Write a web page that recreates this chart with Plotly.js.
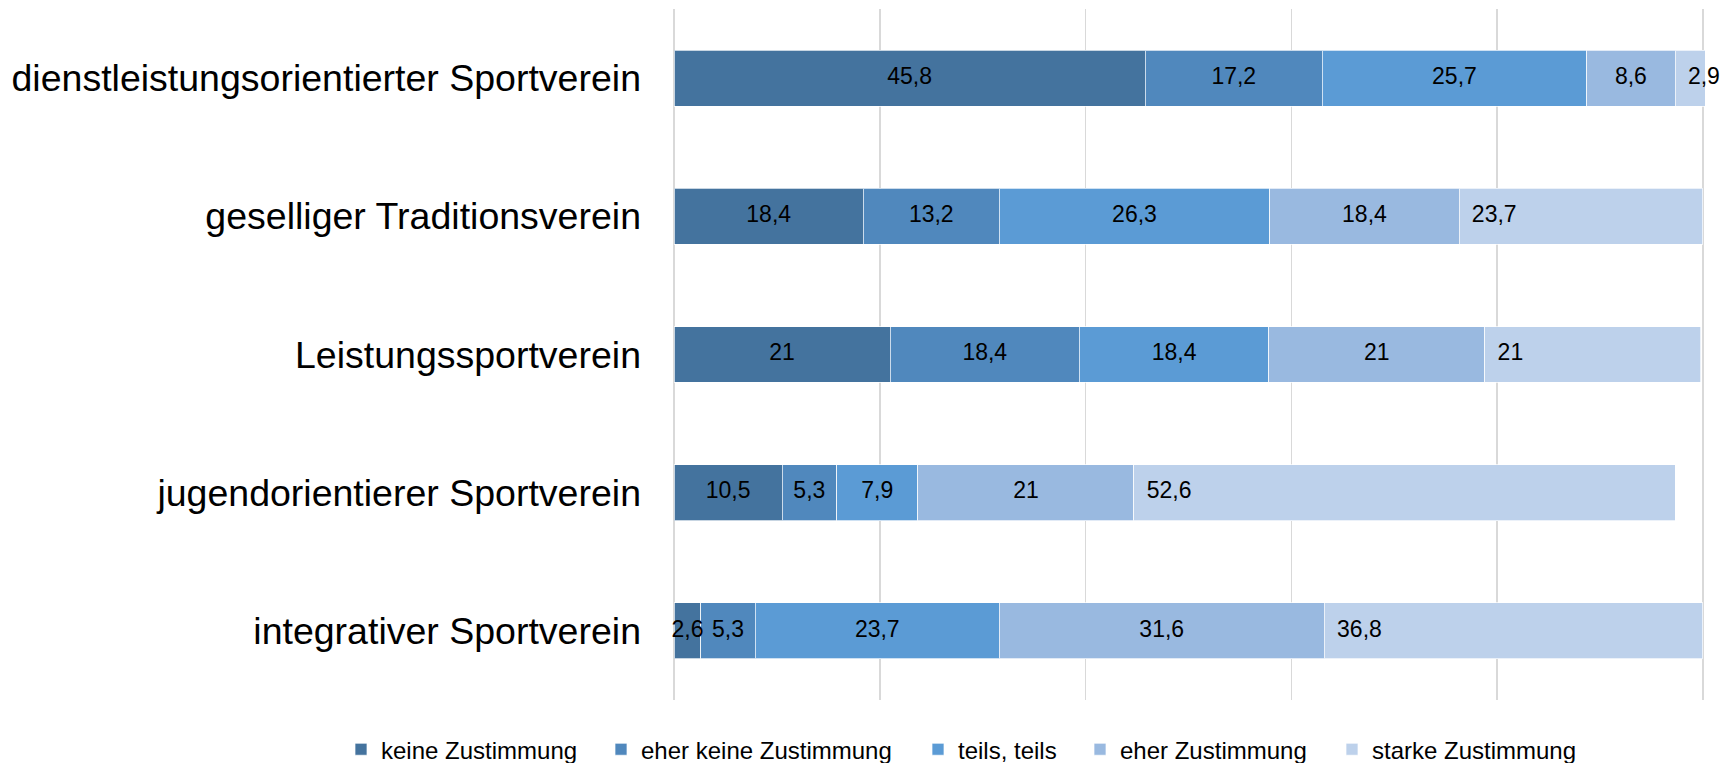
<!DOCTYPE html>
<html>
<head>
<meta charset="utf-8">
<script src="https://cdn.plot.ly/plotly-3.0.1.min.js"></script>
<style>
  html, body { margin: 0; padding: 0; background: #ffffff; }
  #chart { width: 1723px; height: 763px; }
</style>
</head>
<body>
<div id="chart"></div>
<script>
const categories = [
  "dienstleistungsorientierter Sportverein",
  "geselliger Traditionsverein",
  "Leistungssportverein",
  "jugendorientierer Sportverein",
  "integrativer Sportverein"
];
const seriesNames = ["keine Zustimmung", "eher keine Zustimmung", "teils, teils", "eher Zustimmung", "starke Zustimmung"];
const keineZustimmung     = [45.8, 18.4, 21,   10.5, 2.6];
const eherKeineZustimmung = [17.2, 13.2, 18.4, 5.3,  5.3];
const teilsTeils          = [25.7, 26.3, 18.4, 7.9,  23.7];
const eherZustimmung      = [8.6,  18.4, 21,   21,   31.6];
const starkeZustimmung    = [2.9,  23.7, 21,   52.6, 36.8];

const colors = ["#44739e", "#5088bd", "#5b9bd5", "#99b9e0", "#bdd1eb"];
const seriesValues = [keineZustimmung, eherKeineZustimmung, teilsTeils, eherZustimmung, starkeZustimmung];
const fontFamily = '"Liberation Sans", Arial, sans-serif';
// left edge (px) of each legend entry, one legend per series
const legendLeft = [341, 601, 918, 1080, 1332];
const legendIds = ['legend', 'legend2', 'legend3', 'legend4', 'legend5'];

const fmt = v => String(v).replace('.', ',');

const traces = seriesValues.map((vals, i) => ({
  type: 'bar',
  orientation: 'h',
  name: seriesNames[i],
  legend: legendIds[i],
  y: categories,
  x: vals,
  marker: { color: colors[i], line: { color: 'rgba(255,255,255,0.7)', width: 1 } },
  hoverinfo: 'x+y+name'
}));

// data labels drawn on top of all bars (centre of each segment; last series at segment start)
const labelX = [], labelY = [], labelText = [], labelPos = [];
categories.forEach((cat, r) => {
  let start = 0;
  seriesValues.forEach((vals, i) => {
    const v = vals[r];
    const isLast = i === seriesValues.length - 1;
    labelX.push(isLast ? start : start + v / 2);
    labelY.push(cat);
    labelText.push(isLast ? '\u00a0\u00a0' + fmt(v) : fmt(v));
    labelPos.push(isLast ? 'middle right' : 'middle center');
    start += v;
  });
});
traces.push({
  type: 'scatter',
  mode: 'text',
  x: labelX,
  y: labelY,
  text: labelText,
  textposition: labelPos,
  textfont: { family: fontFamily, size: 23, color: '#000000' },
  cliponaxis: false,
  showlegend: false,
  hoverinfo: 'skip'
});

const layout = {
  width: 1723,
  height: 763,
  barmode: 'stack',
  bargap: 0.595,
  paper_bgcolor: '#ffffff',
  plot_bgcolor: '#ffffff',
  margin: { l: 672, r: 18, t: 9, b: 63, pad: 0 },
  font: { family: fontFamily, color: '#000000' },
  showlegend: true,
  xaxis: {
    range: [-0.2, 100.2],
    dtick: 20,
    tick0: 0,
    showgrid: true,
    gridcolor: '#d9d9d9',
    gridwidth: 1.5,
    zeroline: false,
    showline: false,
    showticklabels: false,
    ticks: ''
  },
  yaxis: {
    type: 'category',
    autorange: 'reversed',
    showgrid: false,
    zeroline: false,
    showline: false,
    ticks: '',
    ticklabelstandoff: 30,
    tickfont: { family: fontFamily, size: 37.5, color: '#000000' }
  }
};

legendIds.forEach((id, i) => {
  layout[id] = {
    orientation: 'h',
    xref: 'container',
    yref: 'container',
    x: legendLeft[i] / 1723,
    xanchor: 'left',
    y: 0.0175,
    yanchor: 'middle',
    bgcolor: 'rgba(0,0,0,0)',
    font: { family: fontFamily, size: 24, color: '#000000' }
  };
});

Plotly.newPlot('chart', traces, layout, { displayModeBar: false, staticPlot: true });
</script>
</body>
</html>
